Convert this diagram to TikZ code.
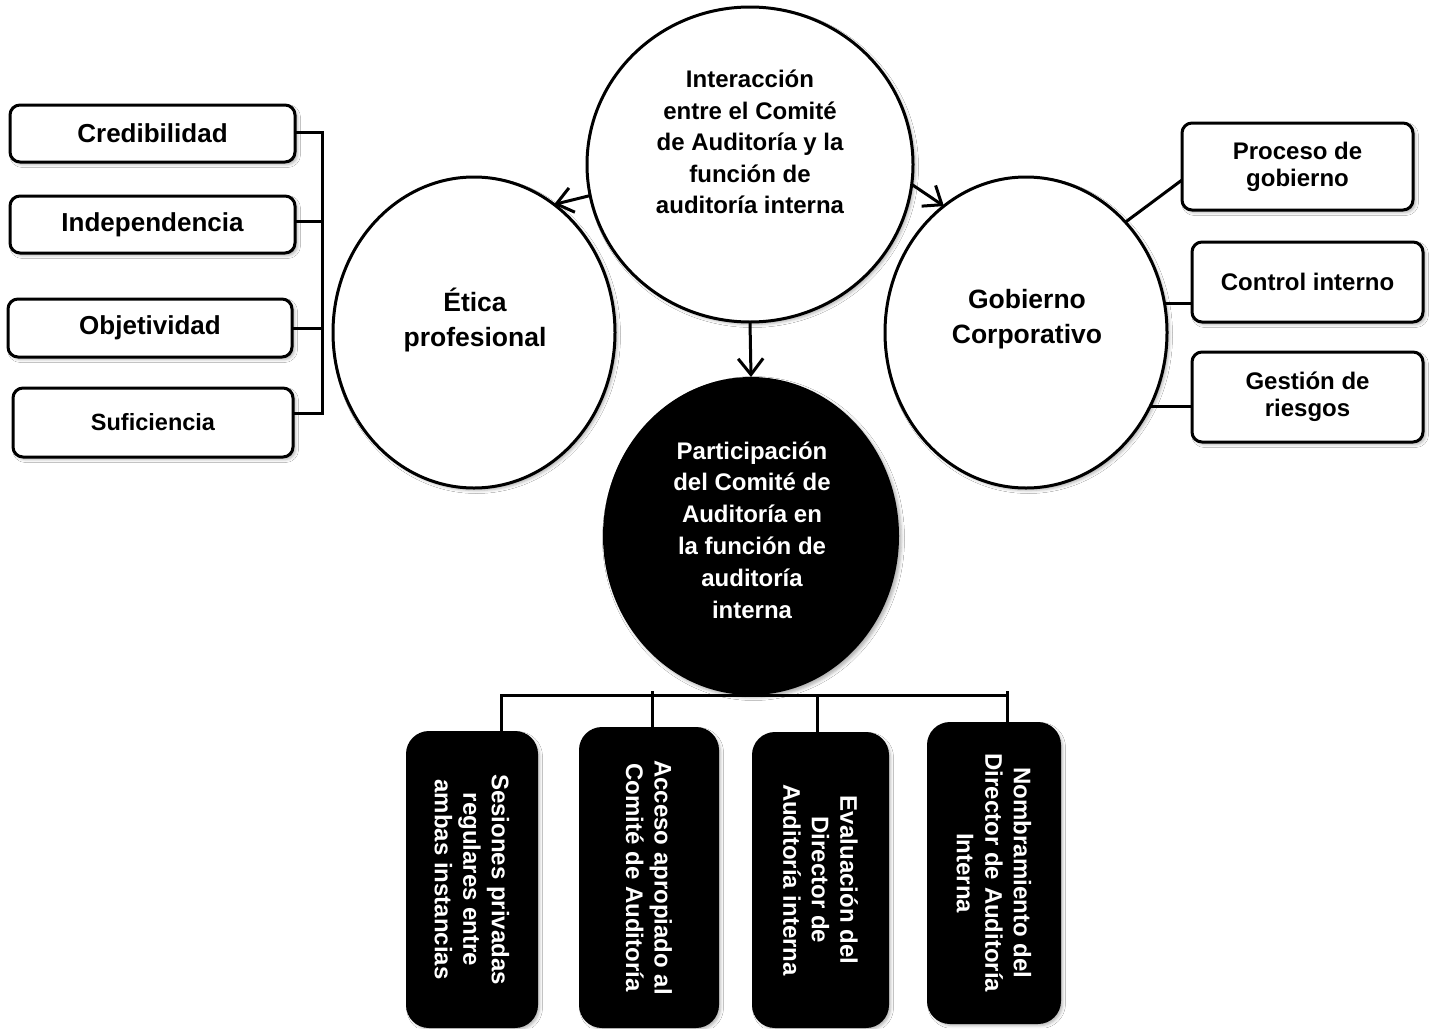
\documentclass[tikz,border=0pt]{standalone}
\usepackage{fontspec}
\setmainfont{Liberation Sans}
\usetikzlibrary{arrows.meta,shapes.geometric,shadows.blur}

\begin{document}
\begin{tikzpicture}[x=1pt,y=-1pt,
  every node/.style={inner sep=0pt, outer sep=0pt},
  softshadow/.style={blur shadow={shadow xshift=2.5pt,shadow yshift=-2.5pt,shadow blur radius=3pt,shadow opacity=30}},
  wbox/.style={draw, line width=3pt, rounded corners=10pt, fill=white, softshadow, align=center},
  kbox/.style={draw, line width=2pt, rounded corners=22pt, fill=black, softshadow},
  bubble/.style={ellipse, draw, line width=3pt, fill=white, softshadow},
  lbl/.style={align=center, font=\bfseries\fontsize{24pt}{31.5pt}\selectfont},
  sidelbl/.style={align=center, font=\bfseries\fontsize{26.5pt}{35pt}\selectfont},
  boxfont/.style={font=\bfseries\fontsize{26pt}{30pt}\selectfont},
  rboxfont/.style={font=\bfseries\fontsize{24pt}{27pt}\selectfont},
  conn/.style={line width=3pt},
  arr/.style={line width=3pt, -{Straight Barb[length=16pt,width=25pt]}},
  vtxt/.style={rotate=-90, align=center, text=white, font=\bfseries\fontsize{24pt}{28.5pt}\selectfont}
]
\useasboundingbox (0,0) rectangle (1432,1028);
\fill[white] (0,0) rectangle (1432,1028);

% central bubbles
\node[bubble, minimum width=326pt, minimum height=315pt] (top) at (750,164.5) {};
\node[lbl] (toptxt) at (750,142) {Interacción\\entre el Comité\\de Auditoría y la\\función de\\auditoría interna};

\node[bubble, minimum width=282pt, minimum height=311pt] (etica) at (474,332.5) {};
\node[sidelbl] (eticatxt) at (475,320) {Ética\\profesional};

\node[bubble, minimum width=282pt, minimum height=311pt] (gob) at (1026,332.5) {};
\node[sidelbl] (gobtxt) at (1027,319) {Gobierno\\Corporativo};

\node[ellipse, fill=black, softshadow, minimum width=296pt, minimum height=318pt] (part) at (751,536) {};
\node[lbl, text=white, font=\bfseries\fontsize{24pt}{31.8pt}\selectfont] (parttxt) at (752,530)
  {Participación\\del Comité de\\Auditoría en\\la función de\\auditoría\\interna};

% arrows out of the top bubble
\draw[arr] (top.191.5) -- (etica.58);
\draw[arr] (top.-7.9) -- (gob.123);
\draw[arr] (top.south) -- (part.north);

% ethics attributes
\node[wbox, boxfont, minimum width=285pt, minimum height=57pt] (cred) at (152.5,133.5) {Credibilidad};
\node[wbox, boxfont, minimum width=285pt, minimum height=57pt] (indep) at (152.5,224.5) {Independencia};
\node[wbox, boxfont, minimum width=284pt, minimum height=58pt] (obj) at (150,328) {Objetividad};
\node[wbox, font=\bfseries\fontsize{23.5pt}{28pt}\selectfont, minimum width=280pt, minimum height=69pt] (suf) at (153,422.5) {Suficiencia};

\coordinate (bx) at (322,0);
\draw[conn] ([yshift=1.5pt]cred.east) -- ([yshift=1.5pt]cred.east -| bx) -- ([yshift=9.5pt]suf.east -| bx) -- ([yshift=9.5pt]suf.east);
\draw[conn] ([yshift=3.5pt]indep.east) -- ([yshift=3.5pt]indep.east -| bx);
\draw[conn] (obj.east) -- (obj.east -| bx);

% governance components
\node[wbox, rboxfont, minimum width=231pt, minimum height=87pt] (proc) at (1297.5,166.5) {Proceso de\\gobierno};
\node[wbox, rboxfont, minimum width=231pt, minimum height=80pt] (ctrl) at (1307.5,282) {Control interno};
\node[wbox, rboxfont, minimum width=231pt, minimum height=90pt] (risk) at (1307.5,397) {Gestión de\\riesgos};

\draw[conn] (gob.48) -- ([yshift=-13.5pt]proc.west);
\draw[conn] (gob.12.9) -- (gob.12.9 -| ctrl.west);
\draw[conn] (gob.-31.9) -- (gob.-31.9 -| risk.west);

% participation tree
\node[kbox, minimum width=130pt, minimum height=295pt] (b1) at (472,879.5) {};
\node[kbox, minimum width=138pt, minimum height=299pt] (b2) at (649,877.5) {};
\node[kbox, minimum width=135pt, minimum height=294pt] (b3) at (820.5,880) {};
\node[kbox, minimum width=132pt, minimum height=300pt] (b4) at (994,873) {};

\node[vtxt] (t1) at (b1.center) {Sesiones privadas\\regulares entre\\ambas instancias};
\node[vtxt] (t2) at (b2.center) {Acceso apropiado al\\Comité de Auditoría};
\node[vtxt] (t3) at (b3.center) {Evaluación del\\Director de\\Auditoría interna};
\node[vtxt] (t4) at (b4.center) {Nombramiento del\\Director de Auditoría\\Interna};

\coordinate (c1) at (501,695);
\coordinate (c4) at (1007,695);
\coordinate (c2) at (652,691);
\coordinate (c3) at (817,695);
\coordinate (c4t) at (1007,691);
\draw[conn] (c1 |- b1.north) -- (c1) -- (c4);
\draw[conn] (c2) -- (c2 |- b2.north);
\draw[conn] (c3) -- (c3 |- b3.north);
\draw[conn] (c4t) -- (c4t |- b4.north);
\end{tikzpicture}
\end{document}
